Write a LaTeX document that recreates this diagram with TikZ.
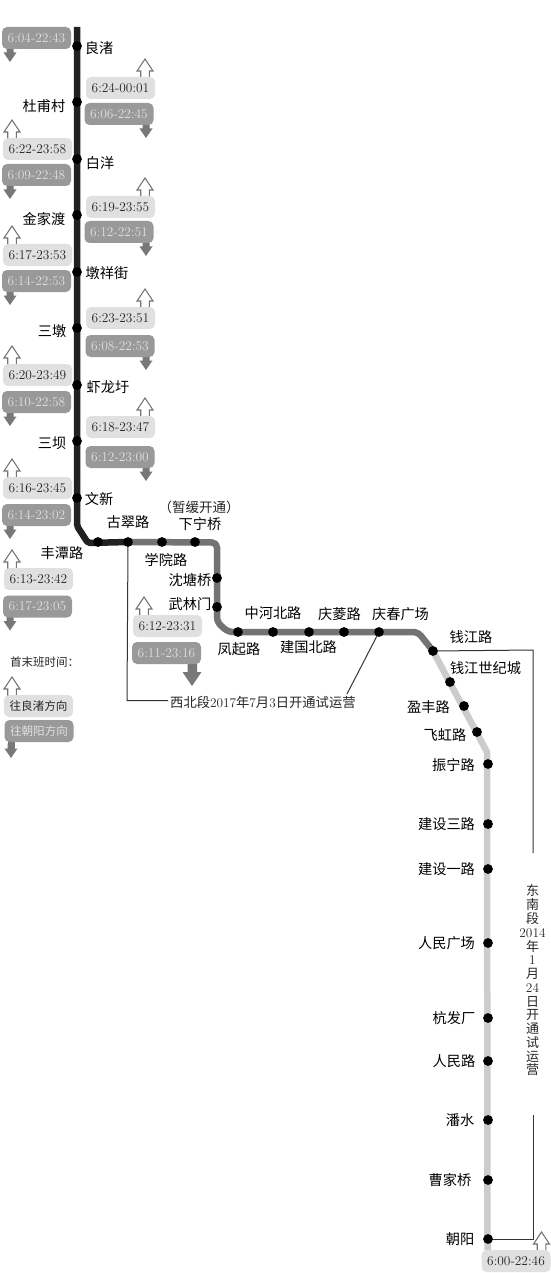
\documentclass[tikz,border=0pt]{standalone}
\usepackage{fontspec}
\newfontfamily\cjk{Noto Sans CJK SC}
\definecolor{lineA}{gray}{0.13}
\definecolor{lineB}{gray}{0.45}
\definecolor{lineC}{gray}{0.8}
\definecolor{bubL}{gray}{0.88}
\definecolor{bubD}{gray}{0.6}
\tikzset{
 x=1pt,y=-1pt,
 track/.style={line width=6.5pt,line join=round},
 stn/.style={circle,fill=black,inner sep=0pt,minimum size=9.8pt},
 lab/.style={font=\cjk\fontsize{14.2}{14.2}\selectfont,text=black,inner sep=0pt},
 note/.style={font=\cjk\fontsize{12.8}{12.8}\selectfont,text=black!85,inner sep=0pt},
 lbub/.style={rounded corners=5pt,fill=bubL,text=black!85,inner sep=0pt,minimum width=69pt,minimum height=22pt,font=\fontsize{13.4}{13.4}\selectfont},
 dbub/.style={rounded corners=5pt,fill=bubD,text=black!12,inner sep=0pt,minimum width=69pt,minimum height=22pt,font=\fontsize{13.4}{13.4}\selectfont},
 upar/.style={draw=black!55,fill=white,line width=1.1pt,line join=miter},
 dnar/.style={fill=black!53,draw=none},
 conn/.style={line width=1pt,draw=black!80},
}
\newcommand{\uparw}[2]{\draw[upar] (#1,#2) -- ++(8,12) -- ++(-3.7,0) -- ++(0,7) -- ++(-8.6,0) -- ++(0,-7) -- ++(-3.7,0) -- cycle;}
\newcommand{\dnarw}[2]{\fill[dnar] (#1,#2) -- ++(-6.5,-9.5) -- ++(3,0) -- ++(0,-5) -- ++(7,0) -- ++(0,5) -- ++(3,0) -- cycle;}
\newcommand{\LB}[5]{% name, cx, cy, text, arrow x
 \uparw{#5}{#3-29}
 \node[lbub] (#1) at (#2,#3) {#4};
}
\newcommand{\DB}[5]{%
 \dnarw{#5}{#3+24}
 \node[dbub] (#1) at (#2,#3) {#4};
}
\begin{document}
\begin{tikzpicture}
\useasboundingbox (0,0) rectangle (550,1273);
\fill[white] (0,0) rectangle (550,1273);
% stations coordinates
\foreach \n/\x/\y in {s1/77/46,s2/77/102,s3/77/159,s4/77/215,s5/77/272,s6/77/328,s7/77/385,s8/77/441,s9/77/498,s10/98/542,s11/128/542,s12/162/542,s13/195/542,s14/217/578,s15/217/607,s16/238/632,s17/273/632,s18/309/632,s19/344/632,s20/379/632,s21/433/651,s22/450/682,s23/464/706,s24/477/732,s25/488/764,s26/488/824,s27/488/869,s28/488/943,s29/488/1018,s30/488/1061,s31/488/1120,s32/488/1180,s33/488/1239}
 {\coordinate (\n) at (\x,\y);}
\coordinate (top) at (77,27);
\coordinate (bot) at (487.5,1250);
% tracks
\draw[track,lineC] (s21) -- (487,752) -- (bot);
\draw[track,lineB,rounded corners=5pt] (s11) -- (217,542.5) -- (217,622) -- (228,632) -- (418,632) -- (s21);
\draw[track,lineA,rounded corners=2pt] (top) -- (77,526) -- (88,543) -- (s11);
% connectors
\coordinate (c1) at (127,700.5);
\coordinate (c2) at (168,700.5);
\coordinate (c3) at (347,694);
\coordinate (c4) at (533,650);
\coordinate (c5) at (533,853);
\coordinate (c6) at (533,1115);
\coordinate (c7) at (533,1239);
\draw[conn] (s11) -- (c1) -- (c2);
\draw[conn] (s20) -- (c3);
\draw[conn] (s21) -- (c4) -- (c5);
\draw[conn] (c6) -- (c7) -- (s33);
% station dots
\foreach \n in {1,...,33} {\node[stn] (d\n) at (s\n) {};}
% labels
\node[lab] (l1) at (99,48) {良渚};
\node[lab] (l2) at (44,106) {杜甫村};
\node[lab] (l3) at (100,163) {白洋};
\node[lab] (l4) at (44,219) {金家渡};
\node[lab] (l5) at (107,273) {墩祥街};
\node[lab] (l6) at (52,331) {三墩};
\node[lab] (l7) at (108,387) {虾龙圩};
\node[lab] (l8) at (52,443) {三坝};
\node[lab] (l9) at (99,499) {文新};
\node[lab] (l10) at (62,553) {丰潭路};
\node[lab] (l11) at (128,522) {古翠路};
\node[lab] (l12) at (166,560) {学院路};
\node[lab] (l13) at (200,524) {下宁桥};
\node[note,font=\cjk\fontsize{13.5}{13.5}\selectfont] (l13b) at (199,507) {（暂缓开通）};
\node[lab] (l14) at (190,580) {沈塘桥};
\node[lab] (l15) at (190,604) {武林门};
\node[lab] (l16) at (239,649) {凤起路};
\node[lab] (l17) at (273,613) {中河北路};
\node[lab] (l18) at (308.5,647) {建国北路};
\node[lab] (l19) at (339.5,614) {庆菱路};
\node[lab] (l20) at (400.5,614) {庆春广场};
\node[lab] (l21) at (471,637) {钱江路};
\node[lab] (l22) at (485.5,668) {钱江世纪城};
\node[lab] (l23) at (428.5,707) {盈丰路};
\node[lab] (l24) at (445,735) {飞虹路};
\node[lab] (l25) at (453.5,765) {振宁路};
\node[lab] (l26) at (446.5,824) {建设三路};
\node[lab] (l27) at (446.5,869) {建设一路};
\node[lab] (l28) at (446.5,943) {人民广场};
\node[lab] (l29) at (454,1018) {杭发厂};
\node[lab] (l30) at (454,1061) {人民路};
\node[lab] (l31) at (460,1120) {潘水};
\node[lab] (l32) at (450,1180) {曹家桥};
\node[lab] (l33) at (460,1239) {朝阳};
% bubbles
\DB{b1}{36.5}{38}{6:04-22:43}{10}
\LB{b2}{120.5}{88}{6:24-00:01}{145}
\DB{b3}{119}{114}{6:06-22:45}{146}
\LB{b4}{37.5}{149}{6:22-23:58}{12}
\DB{b5}{36.5}{175}{6:09-22:48}{10}
\LB{b6}{120.5}{207}{6:19-23:55}{145}
\DB{b7}{119}{232}{6:12-22:51}{146}
\LB{b8}{37.5}{255}{6:17-23:53}{12}
\DB{b9}{36.5}{281}{6:14-22:53}{10}
\LB{b10}{120.5}{318}{6:23-23:51}{145}
\DB{b11}{120}{346}{6:08-22:53}{146}
\LB{b12}{37.5}{375}{6:20-23:49}{12}
\DB{b13}{36.5}{402}{6:10-22:58}{10}
\LB{b14}{120.5}{427}{6:18-23:47}{145}
\DB{b15}{120}{457}{6:12-23:00}{146}
\LB{b16}{37.5}{488}{6:16-23:45}{12}
\DB{b17}{36.5}{515}{6:14-23:02}{10}
\LB{b18}{38.5}{579}{6:13-23:42}{12}
\DB{b19}{37.5}{606.5}{6:17-23:05}{10}
\LB{b20}{167.5}{626}{6:12-23:31}{144}
\fill[dnar] (192,686) -- (182.5,672) -- (187.5,672) -- (187.5,660) -- (197,660) -- (197,672) -- (201.5,672) -- cycle;
\node[dbub] (b21) at (166.5,653) {6:11-23:16};
\node[note,anchor=west,font=\cjk\fontsize{11.5}{11.5}\selectfont] (key) at (10,662) {首末班时间：};
\LB{k1}{38.5}{706}{\cjk\fontsize{11.6}{11.6}\selectfont 往良渚方向}{12}
\dnarw{11}{758}
\fill[dnar] (7.5,740) rectangle (14.5,750);
\node[dbub] (k2) at (39,731) {\cjk\fontsize{11.6}{11.6}\selectfont 往朝阳方向};
\LB{b22}{516}{1261}{6:00-22:46}{541.5}
% notes
\node[note,anchor=west,font=\fontsize{13.3}{13.3}\selectfont] (n1) at (170,702) {\cjk 西北段{\rmfamily 2017}年{\rmfamily 7}月{\rmfamily 3}日开通试运营};
\node[note,align=center,font=\cjk\fontsize{13}{13.77}\selectfont] (n2) at (532.5,980.5) {东\\南\\段\\{\rmfamily\fontsize{13.3}{13.77}\selectfont 2014}\\年\\{\rmfamily\fontsize{13.3}{13.77}\selectfont 1}\\月\\{\rmfamily\fontsize{13.3}{13.77}\selectfont 24}\\日\\开\\通\\试\\运\\营};
\end{tikzpicture}
\end{document}
